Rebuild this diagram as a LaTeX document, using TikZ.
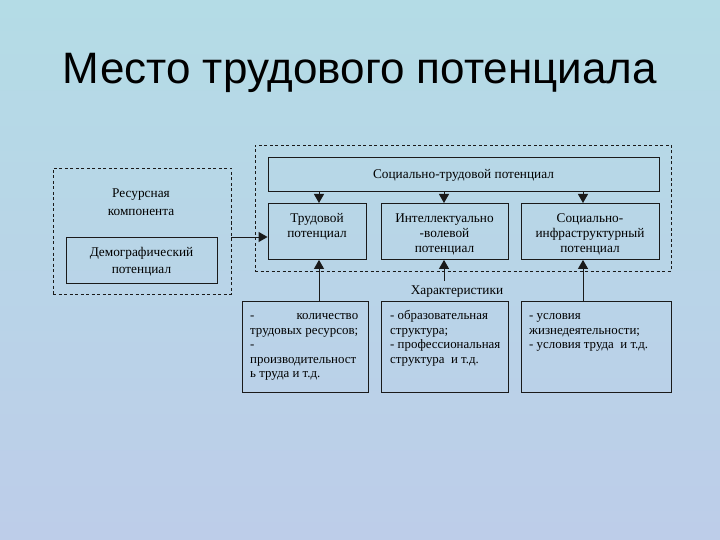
\documentclass[tikz,border=0pt]{standalone}
\usepackage{fontspec}
\setmainfont{Liberation Serif}
\newfontfamily\titlefont{Liberation Sans}
\usetikzlibrary{arrows.meta}
\definecolor{bgtop}{HTML}{B4DCE6}
\definecolor{bgbot}{HTML}{BDCDE9}
\definecolor{ln}{HTML}{1A1A1A}
\tikzset{
  box/.style={draw=ln, line width=0.9pt, rectangle, inner sep=0pt, font=\fontsize{13.3}{15}\selectfont, align=center},
  dbox/.style={draw=ln, line width=0.9pt, dashed, dash pattern=on 3pt off 2.5pt, rectangle, inner sep=0pt},
  lbl/.style={font=\fontsize{13.3}{15}\selectfont, align=center, inner sep=0pt},
  arr/.style={draw=ln, line width=0.9pt, -{Triangle[length=9pt,width=10pt]}},
  listtxt/.style={font=\fontsize{12.9}{14.5}\selectfont, align=left, inner sep=0pt, anchor=base west}
}
\begin{document}
\begin{tikzpicture}[x=1pt,y=-1pt]
\useasboundingbox (0,0) rectangle (720,540);
\shade[top color=bgtop, bottom color=bgbot] (0,0) rectangle (720,540);
% title
\node[font=\titlefont\fontsize{44}{50}\selectfont, anchor=base, inner sep=0pt] (title) at (360,84) {Место трудового потенциала};
% left dashed group
\node[dbox, minimum width=178pt, minimum height=126pt] (res) at (142,231) {};
\node[lbl, font=\fontsize{13.3}{17.5}\selectfont, anchor=base] (reslbl) at (141,215.5) {Ресурсная\\компонента};
\node[box, minimum width=151pt, minimum height=46pt] (demo) at (141.5,260) {};
\node[lbl, font=\fontsize{13.3}{17}\selectfont, anchor=base] (demot) at (141.5,273) {Демографический\\потенциал};
% right dashed group
\node[dbox, minimum width=416pt, minimum height=126pt] (soc) at (463,208) {};
\node[box, minimum width=391pt, minimum height=34pt] (top) at (463.5,174) {};
\node[lbl, anchor=base] (topt) at (463.5,178.5) {Социально-трудовой потенциал};
\node[box, minimum width=98pt, minimum height=56pt, anchor=north] (trud) at (317,203) {};
\node[lbl, anchor=base] (trudt) at (317,237) {Трудовой\\потенциал};
\node[box, minimum width=127pt, minimum height=56pt, anchor=north] (intel) at (444.5,203) {};
\node[lbl, anchor=base] (intelt) at (444.5,252) {Интеллектуально\\-волевой\\потенциал};
\node[box, minimum width=138pt, minimum height=56pt, anchor=north] (infra) at (590,203) {};
\node[lbl, anchor=base] (infrat) at (590,252) {Социально-\\инфраструктурный\\потенциал};
% characteristics
\node[lbl, anchor=base] (char) at (457,294) {Характеристики};
\node[box, minimum width=126pt, minimum height=91pt, anchor=north] (b1) at (305,301) {};
\node[listtxt] (b1t) at (250,377.5) {\makebox[108pt][s]{-\hfill количество}\\трудовых ресурсов;\\-\\производительност\\ь труда и т.д.};
\node[box, minimum width=127pt, minimum height=91pt, anchor=north] (b2) at (444.5,301) {};
\node[listtxt] (b2t) at (390,363) {- образовательная\\структура;\\- профессиональная\\структура\ \ и т.д.};
\node[box, minimum width=150pt, minimum height=91pt, anchor=north] (b3) at (596,301) {};
\node[listtxt] (b3t) at (529,348.5) {- условия\\жизнедеятельности;\\- условия труда\ \ и т.д.};
% arrows
\draw[arr] (top.south -| 319,0) -- (trud.north -| 319,0);
\draw[arr] (top.south -| 444,0) -- (intel.north -| 444,0);
\draw[arr] (top.south -| 583,0) -- (infra.north -| 583,0);
\draw[arr] (res.east |- 0,237) -- (trud.west |- 0,237);
\draw[arr] (b1.north -| 319,0) -- (trud.south -| 319,0);
\coordinate (cfree) at (444,281);
\draw[arr] (cfree) -- (intel.south -| 444,0);
\draw[arr] (b3.north -| 583,0) -- (infra.south -| 583,0);
\end{tikzpicture}
\end{document}
